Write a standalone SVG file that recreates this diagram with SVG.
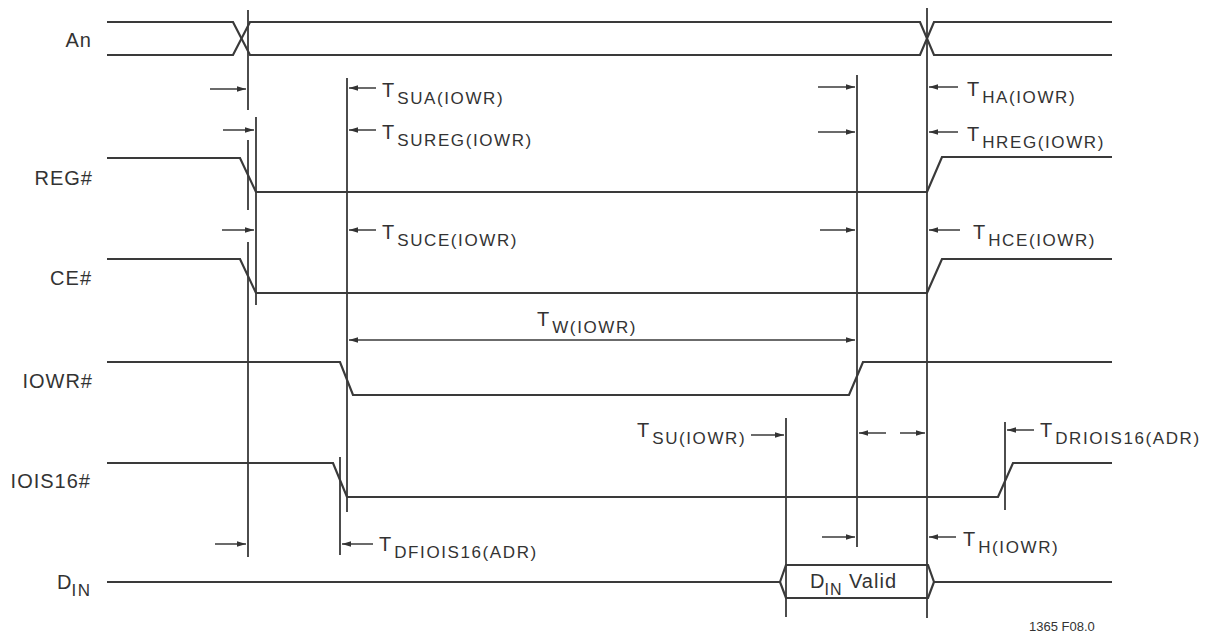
<svg xmlns="http://www.w3.org/2000/svg" width="1205" height="634" viewBox="0 0 1205 634">
<defs>
<style>
.sig{fill:none;stroke:#3a3a3a;stroke-width:2.2;stroke-linejoin:miter}
.vl{fill:none;stroke:#3a3a3a;stroke-width:1.8}
.ar{fill:none;stroke:#3a3a3a;stroke-width:1.5;marker-end:url(#ah)}
.ar2{fill:none;stroke:#3a3a3a;stroke-width:1.5;marker-end:url(#ah);marker-start:url(#ah)}
text{font-family:"Liberation Sans",Arial,sans-serif;fill:#333}
.lbl{font-size:20px;letter-spacing:1px;text-anchor:end}
.t{font-size:20px}
.sub{font-size:17px;letter-spacing:1.6px}
.fig{font-size:13px}
</style>
<marker id="ah" viewBox="0 0 10 6" refX="10" refY="3" markerWidth="9" markerHeight="5.5" orient="auto-start-reverse" markerUnits="userSpaceOnUse">
<path d="M0,0 L10,3 L0,6 Z" fill="#333"/>
</marker>
</defs>
<rect width="1205" height="634" fill="#fff"/>

<g id="sig-An">
<text class="lbl" x="92" y="47">An</text>
<path class="sig" d="M107,22 H233 L250,55 H920 L934,22 H1112"/>
<path class="sig" d="M107,55 H233 L250,22 H920 L934,55 H1112"/>
</g>
<g id="sig-REG">
<text class="lbl" x="93" y="185">REG#</text>
<path class="sig" d="M107,158 H240 L256,192 H927 L942,157 H1112"/>
</g>
<g id="sig-CE">
<text class="lbl" x="92" y="285">CE#</text>
<path class="sig" d="M107,259 H240 L256,293 H927 L942,259 H1112"/>
</g>
<g id="sig-IOWR">
<text class="lbl" x="93" y="388">IOWR#</text>
<path class="sig" d="M107,362 H340 L353,395 H849 L863,362 H1112"/>
</g>
<g id="sig-IOIS16">
<text class="lbl" x="91" y="488">IOIS16#</text>
<path class="sig" d="M107,463 H333 L347,497 H998 L1013,463 H1112"/>
</g>
<g id="sig-DIN">
<text class="t" x="57" y="589">D<tspan class="sub" dy="7" font-size="16">IN</tspan></text>
<path class="sig" d="M107,582 H780 M934,582 H1112"/>
<path class="sig" d="M780,582 L786,565 H928 L934,582 L928,598 H786 Z"/>
<text class="t" x="810" y="588">D<tspan dy="7" font-size="16" letter-spacing="1">IN</tspan><tspan dy="-7" letter-spacing="1"> Valid</tspan></text>
</g>

<g id="connectors">
<path class="vl" d="M248,10 V110 M248,140 V210 M248,242 V557 M256,117 V305 M347,78 V512 M340,457 V555 M857,75 V547 M786,418 V617 M927,8 V618 M1005,422 V510"/>
<path class="ar" d="M210,89 H246"/>
<path class="ar" d="M223,130 H254"/>
<path class="ar" d="M222,230 H254"/>
<path class="ar" d="M215,544 H246"/>
<path class="ar" d="M376,88 H349"/>
<path class="ar" d="M376,130 H349"/>
<path class="ar" d="M376,230 H349"/>
<path class="ar2" d="M349,340 H855"/>
<path class="ar" d="M373,544 H342"/>
<path class="ar" d="M818,87 H855"/>
<path class="ar" d="M818,132 H855"/>
<path class="ar" d="M820,230 H855"/>
<path class="ar" d="M822,537 H855"/>
<path class="ar" d="M958,87 H929"/>
<path class="ar" d="M958,132 H929"/>
<path class="ar" d="M960,230 H929"/>
<path class="ar" d="M956,537 H929"/>
<path class="ar" d="M886,433 H859"/>
<path class="ar" d="M900,433 H925"/>
<path class="ar" d="M751,435 H784"/>
<path class="ar" d="M1034,430 H1007"/>
</g>

<g id="labels">
<text class="t" x="382" y="97">T<tspan class="sub" dx="3" dy="7">SUA(IOWR)</tspan></text>
<text class="t" x="382" y="139">T<tspan class="sub" dx="3" dy="7">SUREG(IOWR)</tspan></text>
<text class="t" x="382" y="239">T<tspan class="sub" dx="3" dy="7">SUCE(IOWR)</tspan></text>
<text class="t" x="537" y="326">T<tspan class="sub" dx="3" dy="7">W(IOWR)</tspan></text>
<text class="t" x="637" y="437">T<tspan class="sub" dx="3" dy="7">SU(IOWR)</tspan></text>
<text class="t" x="379" y="551">T<tspan class="sub" dx="3" dy="7">DFIOIS16(ADR)</tspan></text>
<text class="t" x="967" y="96">T<tspan class="sub" dx="3" dy="7">HA(IOWR)</tspan></text>
<text class="t" x="967" y="141">T<tspan class="sub" dx="3" dy="7">HREG(IOWR)</tspan></text>
<text class="t" x="973" y="239">T<tspan class="sub" dx="3" dy="7">HCE(IOWR)</tspan></text>
<text class="t" x="1040" y="437">T<tspan class="sub" dx="3" dy="7">DRIOIS16(ADR)</tspan></text>
<text class="t" x="963" y="546">T<tspan class="sub" dx="3" dy="7">H(IOWR)</tspan></text>
<text class="fig" x="1029" y="631">1365 F08.0</text>
</g>
</svg>
